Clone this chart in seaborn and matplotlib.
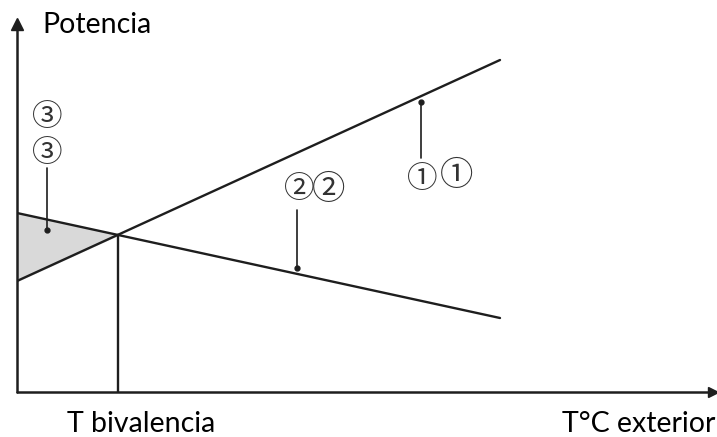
import matplotlib
matplotlib.use("Agg")
import matplotlib.pyplot as plt
import seaborn as sns
import pandas as pd
import numpy as np

# Data (abstract units: x = outdoor temperature, y = power)
temp = [0, 483]
capacidad_bomba = [111, 332]      # line ① (rising)
demanda = [179, 74]               # line ② (falling)
t_bivalencia = 101
p_bivalencia = 157

# annotation leaders: dot x, dot y, top of leader
dot_x = [404, 280, 30]
dot_y = [290, 124, 162]
leader_top = [234, 182, 224]

# circled labels: text, x, y, style
lab_text = ["①", "①", "②", "②", "③", "③"]
lab_x = [405, 440, 282, 312, 30, 30]
lab_y = [212, 217, 202, 202, 274, 239]
lab_style = [0, 1, 0, 1, 0, 0]

sns.set_theme(style="white")
plt.rcParams['font.family'] = ['Lato', 'DejaVu Sans']

W, H = 717, 437
fig = plt.figure(figsize=(W / 100, H / 100), dpi=100)
ox, oy = 17, 392
ax = fig.add_axes([ox / W, (H - oy) / H, (715 - ox) / W, (oy - 12) / H])
ax.set_xlim(0, 715 - ox)
ax.set_ylim(0, oy - 12)
for s in ax.spines.values():
    s.set_visible(False)
ax.set_xticks([])
ax.set_yticks([])

lc = "#1e1e1e"
df = pd.DataFrame({"T": temp * 2,
                   "P": capacidad_bomba + demanda,
                   "serie": ["1"] * 2 + ["2"] * 2})
sns.lineplot(data=df, x="T", y="P", hue="serie", palette=[lc, lc],
             legend=False, linewidth=1.7, ax=ax)

# shaded triangle
xs = np.array([0, t_bivalencia])
c = np.interp(xs, temp, capacidad_bomba)
d = np.interp(xs, temp, demanda)
ax.fill_between(xs, c, d, color="#d9d9d9", zorder=0)

# vertical line at bivalent point
ax.plot([t_bivalencia, t_bivalencia], [0, p_bivalencia], color=lc, lw=1.7)

# axes with arrows
ax.plot([0, 0], [0, 365], color=lc, lw=1.8, clip_on=False)
ax.plot([0, 695], [0, 0], color=lc, lw=1.8, clip_on=False)
ax.plot([0], [368], marker="^", color=lc, markersize=8, clip_on=False)
ax.plot([696], [0], marker=">", color=lc, markersize=7, clip_on=False)

# leader lines with dots
for lx, ly, lt in zip(dot_x, dot_y, leader_top):
    ax.plot([lx, lx], [ly, lt], color=lc, lw=1.2)
    ax.plot([lx], [ly], marker="o", color=lc, markersize=3.5)

# circled labels
styles = [dict(fontsize=22, family=['Noto Sans CJK JP', 'DejaVu Sans']),
          dict(fontsize=24, family=['Noto Sans CJK JP', 'DejaVu Sans'])]
for t, x, y, st in zip(lab_text, lab_x, lab_y, lab_style):
    ax.text(x, y, t, ha="center", va="center", color="#333333",
            **styles[st])

# axis texts
fs = 20.5
fig.text(42 / W, 1 - 33 / H, "Potencia", fontsize=fs, ha="left",
         va="baseline", color="black")
fig.text(141 / W, 1 - 432 / H, "T bivalencia", fontsize=fs, ha="center",
         va="baseline", color="black")
fig.text(715 / W, 1 - 432 / H, "T°C exterior", fontsize=fs, ha="right",
         va="baseline", color="black")

fig.savefig("out.png", dpi=100)
